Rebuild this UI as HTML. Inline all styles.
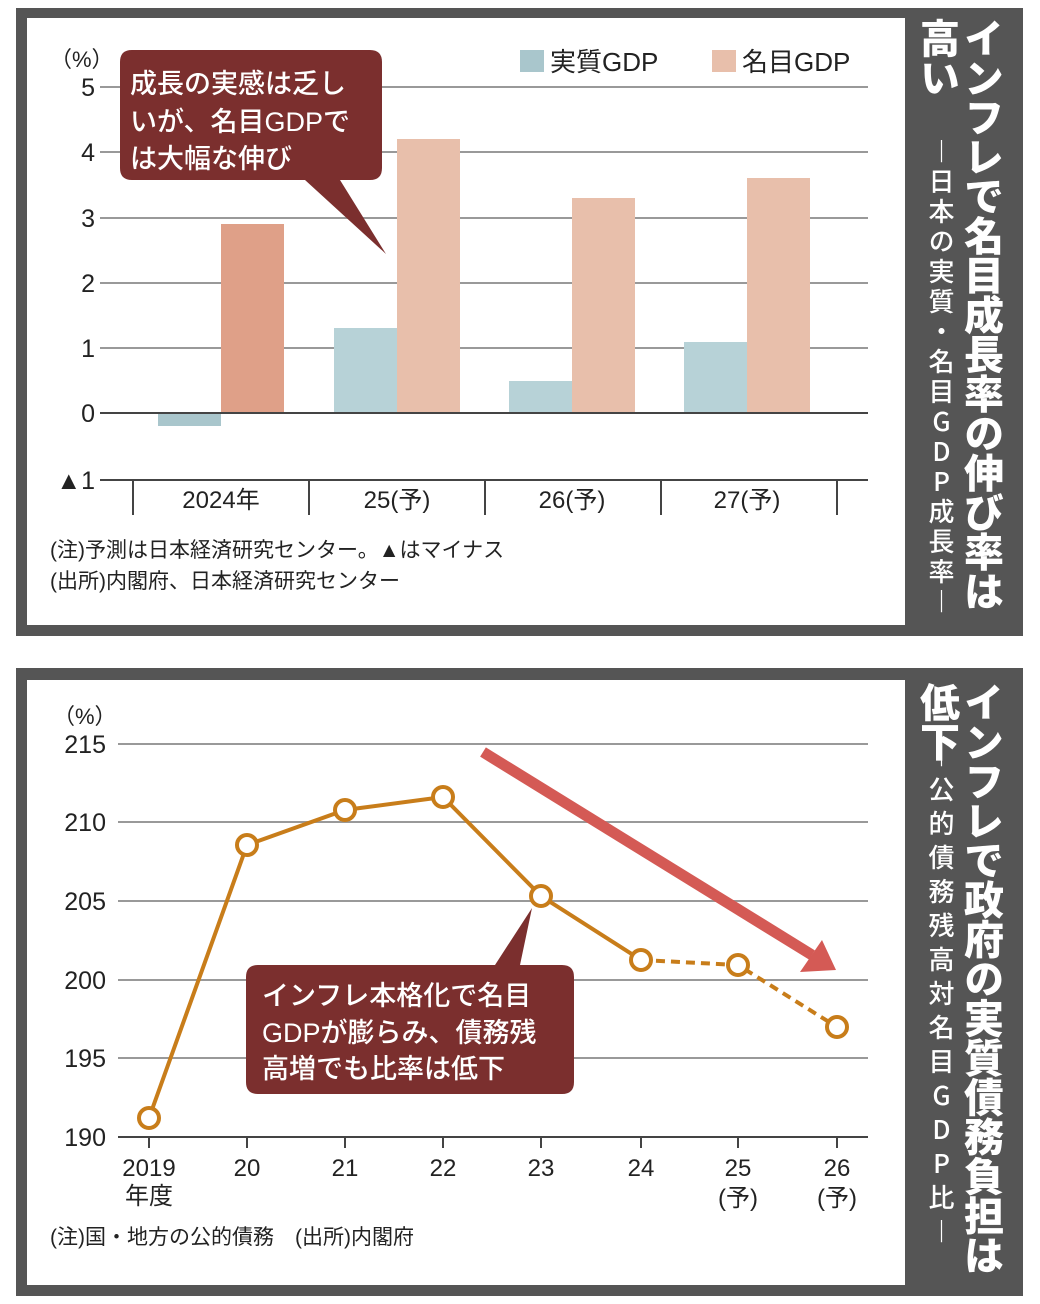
<!DOCTYPE html>
<html><head><meta charset="utf-8">
<style>
body{margin:0;background:#fff;width:1040px;height:1304px;position:relative;overflow:hidden;font-family:"Liberation Sans","Noto Sans CJK JP",sans-serif}
.box{position:absolute;background:#555}
.inner{position:absolute;background:#fff}
.v{position:absolute;writing-mode:vertical-rl;text-orientation:upright;color:#fff;white-space:nowrap;font-family:"Noto Sans CJK JP",sans-serif}
.t{font-size:40px;font-weight:900;line-height:44px;letter-spacing:-0.5px}
.s{font-size:26px;font-weight:500;line-height:28px;letter-spacing:4px}
svg text{font-family:"Liberation Sans","Noto Sans CJK JP",sans-serif}
</style></head><body>
<div class="box" style="left:16px;top:8px;width:1007px;height:628px"></div>
<div class="inner" style="left:27px;top:18px;width:878px;height:607px"></div>
<div class="box" style="left:16px;top:668px;width:1007px;height:628px"></div>
<div class="inner" style="left:27px;top:680px;width:878px;height:605px"></div>

<div class="v t" style="left:962px;top:18px">インフレで名目成長率の伸び率は</div>
<div class="v t" style="left:918px;top:18px">高い</div>
<div class="v s" style="left:927px;top:138px">―日本の実質・名目GDP成長率―</div>

<div class="v t" style="left:962px;top:682px">インフレで政府の実質債務負担は</div>
<div class="v t" style="left:918px;top:682px">低下</div>
<div class="v s" style="left:927px;top:742px;letter-spacing:8px">―公的債務残高対名目GDP比―</div>

<svg width="1040" height="1304" style="position:absolute;left:0;top:0">
<g stroke="#999" stroke-width="2">
<line x1="100" x2="868" y1="87" y2="87"/><line x1="100" x2="868" y1="152" y2="152"/>
<line x1="100" x2="868" y1="218" y2="218"/><line x1="100" x2="868" y1="283" y2="283"/>
<line x1="100" x2="868" y1="348" y2="348"/>
</g>
<rect x="158" y="413" width="63" height="13" fill="#a9c6cc"/>
<rect x="221" y="224" width="63" height="189" fill="#dfa088"/>
<rect x="334" y="328" width="63" height="85" fill="#b7d2d7"/>
<rect x="397" y="139" width="63" height="274" fill="#e8bfab"/>
<rect x="509" y="381" width="63" height="32" fill="#b7d2d7"/>
<rect x="572" y="198" width="63" height="215" fill="#e8bfab"/>
<rect x="684" y="342" width="63" height="71" fill="#b7d2d7"/>
<rect x="747" y="178" width="63" height="235" fill="#e8bfab"/>
<line x1="100" x2="868" y1="413" y2="413" stroke="#444" stroke-width="2"/>
<line x1="100" x2="868" y1="480" y2="480" stroke="#444" stroke-width="2"/>
<g stroke="#444" stroke-width="2">
<line x1="133" x2="133" y1="480" y2="515"/><line x1="309" x2="309" y1="480" y2="515"/>
<line x1="485" x2="485" y1="480" y2="515"/><line x1="661" x2="661" y1="480" y2="515"/>
<line x1="837" x2="837" y1="480" y2="515"/></g>
<g font-size="25" fill="#222" text-anchor="end">
<text x="95" y="96">5</text><text x="95" y="161">4</text><text x="95" y="227">3</text>
<text x="95" y="292">2</text><text x="95" y="357">1</text><text x="95" y="422">0</text>
<text x="95" y="489">▲1</text></g>
<text x="50" y="67" font-size="22" fill="#222">（%）</text>
<g font-size="24" fill="#222" text-anchor="middle">
<text x="221" y="508">2024年</text><text x="397" y="508">25(予)</text>
<text x="572" y="508">26(予)</text><text x="747" y="508">27(予)</text></g>
<rect x="520" y="50" width="24" height="22" fill="#a9c6cc"/>
<text x="550" y="71" font-size="26" fill="#222">実質GDP</text>
<rect x="712" y="50" width="24" height="22" fill="#e8bfab"/>
<text x="742" y="71" font-size="26" fill="#222">名目GDP</text>
<path d="M132 50 H370 Q382 50 382 62 V168 Q382 180 370 180 H340 L386 254 L305 180 H132 Q120 180 120 168 V62 Q120 50 132 50Z" fill="#7b2f2e"/>
<g font-size="27" fill="#fff" font-weight="500">
<text x="130" y="93">成長の実感は乏し</text><text x="130" y="131">いが、名目GDPで</text><text x="130" y="168">は大幅な伸び</text></g>
<g font-size="21" fill="#222">
<text x="50" y="557">(注)予測は日本経済研究センター。▲はマイナス</text>
<text x="50" y="588">(出所)内閣府、日本経済研究センター</text></g>

<g stroke="#999" stroke-width="2">
<line x1="118" x2="868" y1="744" y2="744"/><line x1="118" x2="868" y1="822" y2="822"/>
<line x1="118" x2="868" y1="901" y2="901"/><line x1="118" x2="868" y1="980" y2="980"/>
<line x1="118" x2="868" y1="1058" y2="1058"/></g>
<line x1="118" x2="868" y1="1137" y2="1137" stroke="#444" stroke-width="2"/>
<g stroke="#444" stroke-width="2">
<line x1="149" x2="149" y1="1137" y2="1148"/><line x1="247" x2="247" y1="1137" y2="1148"/>
<line x1="345" x2="345" y1="1137" y2="1148"/><line x1="443" x2="443" y1="1137" y2="1148"/>
<line x1="541" x2="541" y1="1137" y2="1148"/><line x1="641" x2="641" y1="1137" y2="1148"/>
<line x1="738" x2="738" y1="1137" y2="1148"/><line x1="837" x2="837" y1="1137" y2="1148"/></g>
<g font-size="25" fill="#222" text-anchor="end">
<text x="106" y="753">215</text><text x="106" y="831">210</text><text x="106" y="910">205</text>
<text x="106" y="989">200</text><text x="106" y="1067">195</text><text x="106" y="1146">190</text></g>
<text x="53" y="724" font-size="22" fill="#222">（%）</text>
<g font-size="24" fill="#222" text-anchor="middle">
<text x="149" y="1176">2019</text><text x="149" y="1204">年度</text>
<text x="247" y="1176">20</text><text x="345" y="1176">21</text><text x="443" y="1176">22</text>
<text x="541" y="1176">23</text><text x="641" y="1176">24</text>
<text x="738" y="1176">25</text><text x="738" y="1206">(予)</text>
<text x="837" y="1176">26</text><text x="837" y="1206">(予)</text></g>
<polyline points="149,1118 247,845 345,810 443,797 541,896 641,960" fill="none" stroke="#c87d1a" stroke-width="4"/>
<polyline points="641,960 738,965 837,1027" fill="none" stroke="#c87d1a" stroke-width="4" stroke-dasharray="9,6"/>
<g fill="#fff" stroke="#c87d1a" stroke-width="4">
<circle cx="149" cy="1118" r="10"/><circle cx="247" cy="845" r="10"/><circle cx="345" cy="810" r="10"/>
<circle cx="443" cy="797" r="10"/><circle cx="541" cy="896" r="10"/><circle cx="641" cy="960" r="10"/>
<circle cx="738" cy="965" r="10"/><circle cx="837" cy="1027" r="10"/></g>
<line x1="483" y1="752" x2="812" y2="955" stroke="#d45a55" stroke-width="11"/>
<polygon points="836,970 800,972 822,940" fill="#d45a55"/>
<path d="M258 965 H495 L532 908 L520 965 H562 Q574 965 574 977 V1082 Q574 1094 562 1094 H258 Q246 1094 246 1082 V977 Q246 965 258 965Z" fill="#7b2f2e"/>
<g font-size="27" fill="#fff" font-weight="500">
<text x="262" y="1005">インフレ本格化で名目</text><text x="262" y="1042">GDPが膨らみ、債務残</text><text x="262" y="1078">高増でも比率は低下</text></g>
<text x="50" y="1244" font-size="21" fill="#222">(注)国・地方の公的債務　(出所)内閣府</text>
</svg>
</body></html>
